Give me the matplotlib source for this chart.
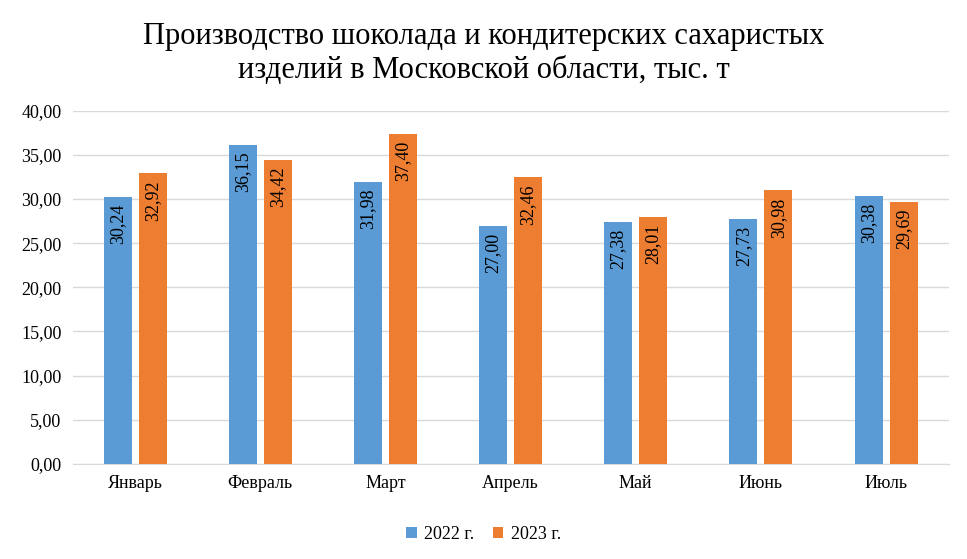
import matplotlib.pyplot as plt
import numpy as np

months = ["Январь", "Февраль", "Март", "Апрель", "Май", "Июнь", "Июль"]
values_2022 = [30.24, 36.15, 31.98, 27.00, 27.38, 27.73, 30.38]
values_2023 = [32.92, 34.42, 37.40, 32.46, 28.01, 30.98, 29.69]
series_names = ["2022 г.", "2023 г."]

plt.rcParams["font.family"] = "Liberation Serif"

fig = plt.figure(figsize=(9.67, 5.59), dpi=100)
ax = fig.add_axes([0.075, 0.17, 0.906, 0.632])

x = np.arange(len(months))
w = 0.224
off = 0.14
b1 = ax.bar(x - off, values_2022, w, color="#5B9BD5", label=series_names[0], zorder=3)
b2 = ax.bar(x + off, values_2023, w, color="#ED7D31", label=series_names[1], zorder=3)

for bars, vals in ((b1, values_2022), (b2, values_2023)):
    for bar, v in zip(bars, vals):
        ax.annotate(f"{v:.2f}".replace(".", ","),
                    (bar.get_x() + bar.get_width() / 2, v),
                    xytext=(0, -5), textcoords="offset points",
                    rotation=90, ha="center", va="top", fontsize=13, zorder=4)

ax.set_ylim(0, 40)
ax.set_xlim(-0.5, len(months) - 0.5)
ax.set_yticks(np.arange(0, 41, 5))
ax.set_yticklabels([f"{t:.2f}".replace(".", ",") for t in np.arange(0, 41, 5)])
ax.set_xticks(x)
ax.set_xticklabels(months)
ax.tick_params(axis="both", length=0, labelsize=13, pad=8)
ax.grid(axis="y", color="#D9D9D9", linewidth=1, zorder=0)
for s in ("top", "right", "left"):
    ax.spines[s].set_visible(False)
ax.spines["bottom"].set_color("#D9D9D9")

fig.suptitle("Производство шоколада и кондитерских сахаристых\nизделий в Московской области, тыс. т",
             fontsize=22, y=0.96, linespacing=1.2)
fig.legend(loc="lower center", ncol=2, frameon=False, fontsize=13,
           bbox_to_anchor=(0.5, 0.0), handlelength=0.6, handleheight=0.6,
           handletextpad=0.4, columnspacing=1.0)

fig.savefig("out.png", dpi=100)
